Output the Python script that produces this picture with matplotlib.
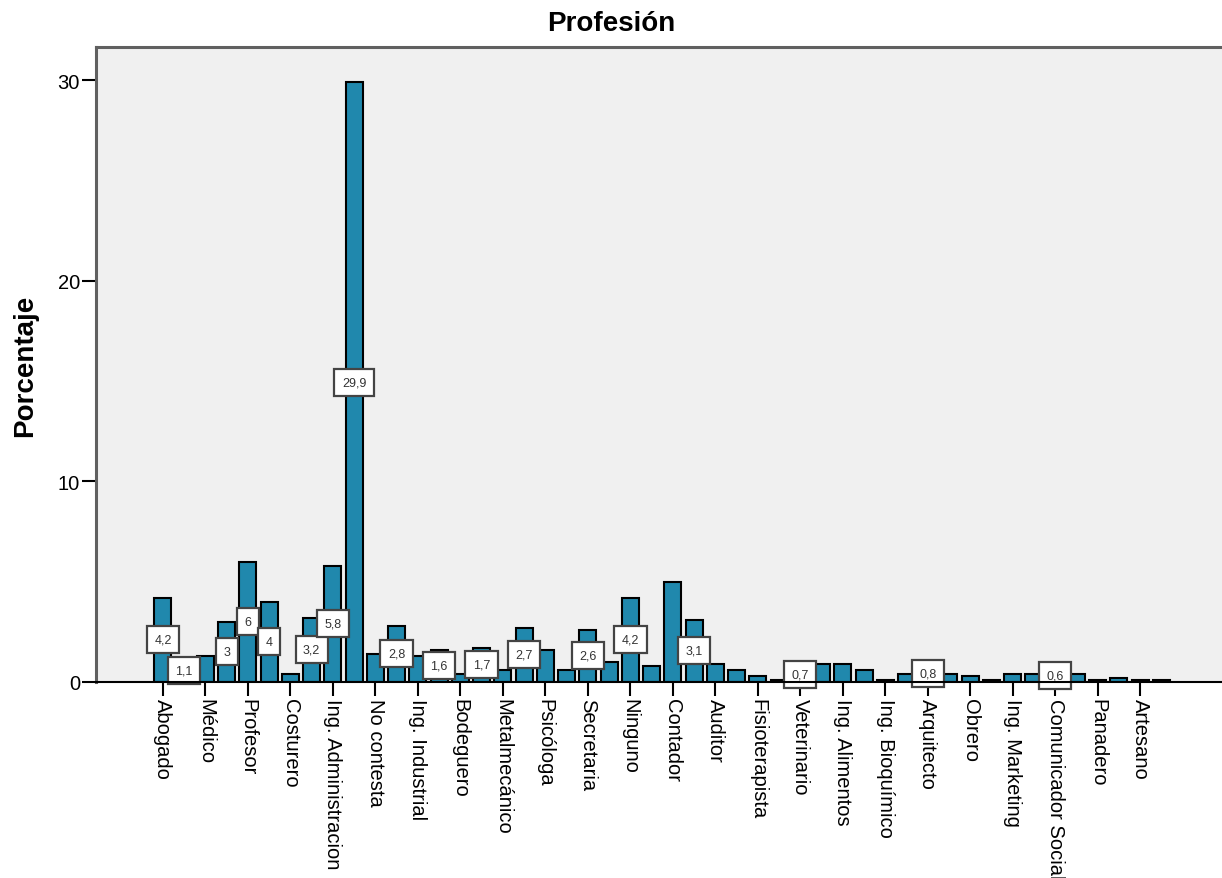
import numpy as np
import matplotlib
matplotlib.use('Agg')
import matplotlib.pyplot as plt

plt.rcParams['font.family'] = ['Liberation Sans', 'DejaVu Sans']

# Porcentaje por profesion (48 barras, etiqueta de eje cada dos barras)
porcentajes = [4.2, 1.1, 1.3, 3.0, 6.0, 4.0, 0.4, 3.2, 5.8, 29.9,
               1.4, 2.8, 1.3, 1.6, 0.4, 1.7, 0.6, 2.7, 1.6, 0.6,
               2.6, 1.0, 4.2, 0.8, 5.0, 3.1, 0.9, 0.6, 0.3, 0.1,
               0.7, 0.9, 0.9, 0.6, 0.1, 0.4, 0.8, 0.4, 0.3, 0.1,
               0.4, 0.4, 0.6, 0.4, 0.1, 0.2, 0.1, 0.1]
etiquetas_eje = ['Abogado', 'Médico', 'Profesor', 'Costurero', 'Ing. Administracion',
                 'No contesta', 'Ing. Industrial', 'Bodeguero', 'Metalmecánico', 'Psicóloga',
                 'Secretaria', 'Ninguno', 'Contador', 'Auditor', 'Fisioterapista',
                 'Veterinario', 'Ing. Alimentos', 'Ing. Bioquímico', 'Arquitecto', 'Obrero',
                 'Ing. Marketing', 'Comunicador Social', 'Panadero', 'Artesano']
# barras que llevan etiqueta de valor
con_etiqueta = [0, 1, 3, 4, 5, 7, 8, 9, 11, 13, 15, 17, 20, 22, 25, 30, 36, 42]

fig = plt.figure(figsize=(12.22, 8.79), dpi=100)
ax = fig.add_axes([96 / 1222, 1 - 683 / 879, 1 - 96 / 1222, (683 - 48) / 879])
ax.set_facecolor('#F0F0F0')

x = np.arange(len(porcentajes))
ax.bar(x, porcentajes, width=0.8, color='#2088AD', edgecolor='black', linewidth=1.5, zorder=2)

for i in con_etiqueta:
    v = porcentajes[i]
    txt = ('%g' % v).replace('.', ',')
    ax.text(i, v / 2, txt, ha='center', va='center', fontsize=9, color='#333333', zorder=4,
            clip_on=False,
            bbox=dict(boxstyle='square,pad=0.6', facecolor='white', edgecolor='#444444', linewidth=1.6))

ax.set_xlim(-3.15, 49.85)
ax.set_ylim(0, 31.67)
ax.set_xticks(x[::2])
ax.set_xticklabels(etiquetas_eje, rotation=-90, fontsize=14.5, va='top', ha='center')
ax.set_yticks([0, 10, 20, 30])
ax.tick_params(axis='both', length=10, width=1.5, color='black', labelsize=14.5, pad=1.5)

for s in ['left', 'top']:
    ax.spines[s].set_color('#606060')
    ax.spines[s].set_linewidth(2.2)
ax.spines['right'].set_visible(False)
ax.spines['bottom'].set_color('black')
ax.spines['bottom'].set_linewidth(1.5)
ax.spines['bottom'].set_zorder(5)

ax.set_ylabel('Porcentaje', fontsize=20, fontweight='bold', labelpad=14)
fig.text(0.5, 1 - 24 / 879, 'Profesión', ha='center', va='center', fontsize=20, fontweight='bold')

fig.savefig('out.png', dpi=100)
